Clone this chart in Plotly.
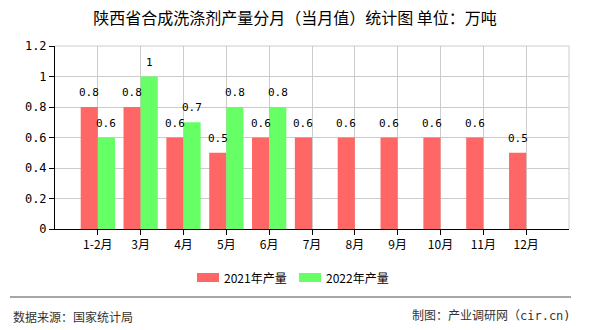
import plotly.graph_objects as go

categories = ["1-2月", "3月", "4月", "5月", "6月", "7月", "8月", "9月", "10月", "11月", "12月"]
prod_2021 = [0.8, 0.8, 0.6, 0.5, 0.6, 0.6, 0.6, 0.6, 0.6, 0.6, 0.5]
prod_2022 = [0.6, 1.0, 0.7, 0.8, 0.8, None, None, None, None, None, None]
series_names = ["2021年产量", "2022年产量"]
series_colors = ["#ff6666", "#66ff66"]
y_ticks = [0, 0.2, 0.4, 0.6, 0.8, 1, 1.2]
y_ticklabels = ["0", "0.2", "0.4", "0.6", "0.8", "1", "1.2"]

W, H = 590, 330
L, R, T, B = 55, 21, 46, 101
ph = H - T - B
pw = W - L - R

def py(pix):
    return (H - B - pix) / ph

def px(pix):
    return (pix - L) / pw

mono = "DejaVu Sans Mono, Noto Sans CJK SC, monospace"
cjk = "Noto Sans CJK SC, sans-serif"

fig = go.Figure()
all_series = [prod_2021, prod_2022]
for name, vals, col in zip(series_names, all_series, series_colors):
    fig.add_trace(go.Bar(
        x=categories, y=vals, name=name,
        marker=dict(color=col, line=dict(width=0)),
        showlegend=False,
    ))

# value labels above bars
offsets = [-0.2, 0.2]
for vals, off in zip(all_series, offsets):
    for i, v in enumerate(vals):
        if v is None:
            continue
        fig.add_annotation(x=i + off, y=v, xref="x", yref="y", text=f"{v:g}",
                           showarrow=False, xanchor="center", yanchor="bottom", yshift=6,
                           font=dict(family=mono, size=11, color="#000"))

fig.update_layout(
    width=W, height=H,
    margin=dict(l=L, r=R, t=T, b=B),
    paper_bgcolor="white", plot_bgcolor="white",
    barmode="group", bargap=0.2, bargroupgap=0,
    showlegend=False,
    title=dict(text="陕西省合成洗涤剂产量分月（当月值）统计图 单位：万吨",
               x=0.5, xanchor="center", y=1 - 18 / H, yanchor="middle",
               font=dict(family=cjk, size=16, color="#000")),
    xaxis=dict(range=[-1, 11], tickmode="array", tickvals=list(range(len(categories))),
               ticktext=categories, showgrid=True, gridcolor="#cccccc",
               showline=True, linecolor="#000", ticks="outside", ticklen=5, tickcolor="#000",
               tickfont=dict(family=cjk, size=12, color="#000"), zeroline=False),
    yaxis=dict(range=[0, 1.2], tickvals=y_ticks, ticktext=y_ticklabels,
               showgrid=True, gridcolor="#cccccc", showline=True, linecolor="#000",
               ticks="outside", ticklen=5, tickcolor="#000",
               tickfont=dict(family=mono, size=12, color="#000"), zeroline=False),
)

# top and right frame in light gray
fig.add_shape(type="line", xref="paper", yref="paper", x0=0, x1=1, y0=1, y1=1,
              line=dict(color="#cccccc", width=1))
fig.add_shape(type="line", xref="paper", yref="paper", x0=1, x1=1, y0=0, y1=1,
              line=dict(color="#cccccc", width=1))

# manual legend
legend_x = [197, 299]
for name, col, lx in zip(series_names, series_colors, legend_x):
    fig.add_shape(type="rect", xref="paper", yref="paper",
                  x0=px(lx), x1=px(lx + 22), y0=py(282), y1=py(273),
                  fillcolor=col, line=dict(width=0))
    fig.add_annotation(text=name, xref="paper", yref="paper", x=px(lx + 25), y=py(277),
                       xanchor="left", yanchor="middle", showarrow=False,
                       font=dict(family=cjk, size=12, color="#000"))

# footer line and texts
fig.add_shape(type="line", xref="paper", yref="paper", x0=px(10), x1=px(571),
              y0=py(297), y1=py(297), line=dict(color="#888888", width=1.5))
fig.add_annotation(text="数据来源：国家统计局", xref="paper", yref="paper",
                   x=px(11), y=py(316), xanchor="left", yanchor="middle", showarrow=False,
                   font=dict(family=cjk, size=12, color="#333"))
fig.add_annotation(text="制图：产业调研网（cir.cn)", xref="paper", yref="paper",
                   x=px(573), y=py(316), xanchor="right", yanchor="middle", showarrow=False,
                   font=dict(family=mono, size=12, color="#333"))

fig.write_html("out.html")
